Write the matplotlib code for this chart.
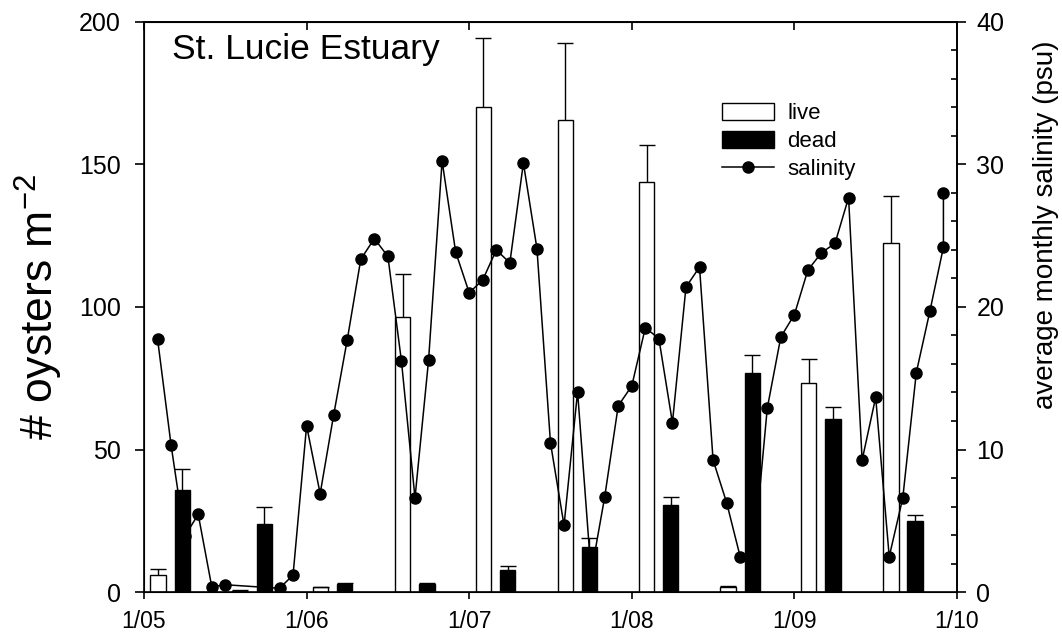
import numpy as np
import matplotlib
matplotlib.use('Agg')
import matplotlib.pyplot as plt
from matplotlib.ticker import MultipleLocator

plt.rcParams['font.family'] = ['Liberation Sans', 'DejaVu Sans']

# x positions are months counted from 1/05
live_month = [1.03, 7.07, 13.05, 19.08, 25.04, 31.1, 37.09, 43.1, 49.05, 55.12]
live = [6.0, 0.5, 1.6, 96.4, 170.0, 165.6, 143.9, 1.7, 73.3, 122.4]
live_err = [2.0, 0.3, 0.3, 15.3, 24.4, 27.0, 12.9, 0.3, 8.4, 16.4]

dead_month = [2.84, 8.88, 14.82, 20.88, 26.84, 32.87, 38.86, 44.9, 50.85, 56.9]
dead = [35.8, 23.8, 2.7, 2.7, 7.7, 15.8, 30.4, 76.9, 60.6, 24.8]
dead_err = [7.2, 6.2, 0.3, 0.3, 1.5, 3.1, 2.8, 6.2, 4.2, 2.2]

sal_month = [1, 2, 3, 4, 5, 6, 10, 11, 12, 13, 14, 15, 16, 17, 18, 19, 20, 21,
             22, 23, 24, 25, 26, 27, 28, 29, 30, 31, 32, 33, 34, 35, 36, 37, 38,
             39, 40, 41, 42, 43, 44, 45, 46, 47, 48, 49, 50, 51, 52, 53, 54, 55,
             56, 57, 58, 59, 59]
salinity = [17.75, 10.3, 3.9, 5.45, 0.37, 0.51, 0.26, 1.19, 11.67, 6.9, 12.44,
            17.7, 23.35, 24.8, 23.55, 16.2, 6.6, 16.25, 30.25, 23.86, 21.0, 21.9,
            24.0, 23.1, 30.1, 24.1, 10.46, 4.68, 14.06, 1.3, 6.67, 13.07, 14.46,
            18.55, 17.78, 11.88, 21.4, 22.8, 9.26, 6.27, 2.48, 2.6, 12.9, 17.9,
            19.46, 22.6, 23.8, 24.47, 27.67, 9.26, 13.66, 2.48, 6.6, 15.4, 19.7,
            24.2, 28.0]

year_ticks = [0, 12, 24, 36, 48, 60]
year_labels = ['1/05', '1/06', '1/07', '1/08', '1/09', '1/10']

fig = plt.figure(figsize=(10.62, 6.35), dpi=100)
ax = fig.add_axes([0.1356, 0.0677, 0.7655, 0.8977])

bw = 1.13
ax.bar(live_month, live, width=bw, color='white', edgecolor='black', lw=1.0, zorder=2)
ax.bar(dead_month, dead, width=bw, color='black', edgecolor='black', lw=1.0, zorder=2)

for xs, ys, es in [(live_month, live, live_err), (dead_month, dead, dead_err)]:
    eb = ax.errorbar(xs, ys, yerr=[np.zeros(len(es)), es], fmt='none', ecolor='black',
                     elinewidth=1.0, capsize=6, capthick=1.0, zorder=3)
    eb[1][0].set_visible(False)

ax.set_xlim(0, 60)
ax.set_ylim(0, 200)
ax.set_xticks(year_ticks)
ax.set_xticklabels(year_labels)
ax.set_yticks([0, 50, 100, 150, 200])
ax.tick_params(axis='both', width=1.2, direction='out')
ax.tick_params(axis='y', length=6.5, pad=10, labelsize=18)
ax.tick_params(axis='x', length=5, pad=8, labelsize=16.5)
for s in ax.spines.values():
    s.set_linewidth(1.2)
ax.set_ylabel('# oysters m$^{\\mathregular{-2}}$', fontsize=32, labelpad=10)

top = ax.secondary_xaxis('top')
top.set_xticks(year_ticks)
top.tick_params(direction='in', length=6, width=1.2, labeltop=False)
top.spines['top'].set_linewidth(1.2)

ax.text(0.035, 0.98, 'St. Lucie Estuary', transform=ax.transAxes, fontsize=25.5,
        va='top', ha='left')

ax2 = ax.twinx()
ax2.plot(sal_month, salinity, '-o', color='black', lw=1.1, ms=8, zorder=4)
ax2.set_ylim(0, 40)
ax2.yaxis.set_major_locator(MultipleLocator(10))
ax2.yaxis.set_minor_locator(MultipleLocator(2))
ax2.tick_params(which='major', direction='out', length=6.5, width=1.2, labelsize=18, pad=7.5)
ax2.tick_params(which='minor', direction='in', length=4, width=1.2)
ax2.spines['right'].set_linewidth(1.2)
ax2.set_ylabel('average monthly salinity (psu)', fontsize=20)
ax2.yaxis.set_label_coords(1.0935, 0.644)

# legend proxies
h1 = plt.Rectangle((0, 0), 1, 1, facecolor='white', edgecolor='black', lw=1.0)
h2 = plt.Rectangle((0, 0), 1, 1, facecolor='black', edgecolor='black', lw=1.0)
h3, = ax2.plot([], [], '-o', color='black', lw=1.1, ms=8)
ax2.legend([h1, h2, h3], ['live', 'dead', 'salinity'], loc='upper left',
           bbox_to_anchor=(0.700, 0.874), frameon=False, fontsize=16,
           handlelength=2.35, handleheight=0.8, labelspacing=0.3, handletextpad=0.6,
           borderaxespad=0)

fig.savefig('out.png', dpi=100)
